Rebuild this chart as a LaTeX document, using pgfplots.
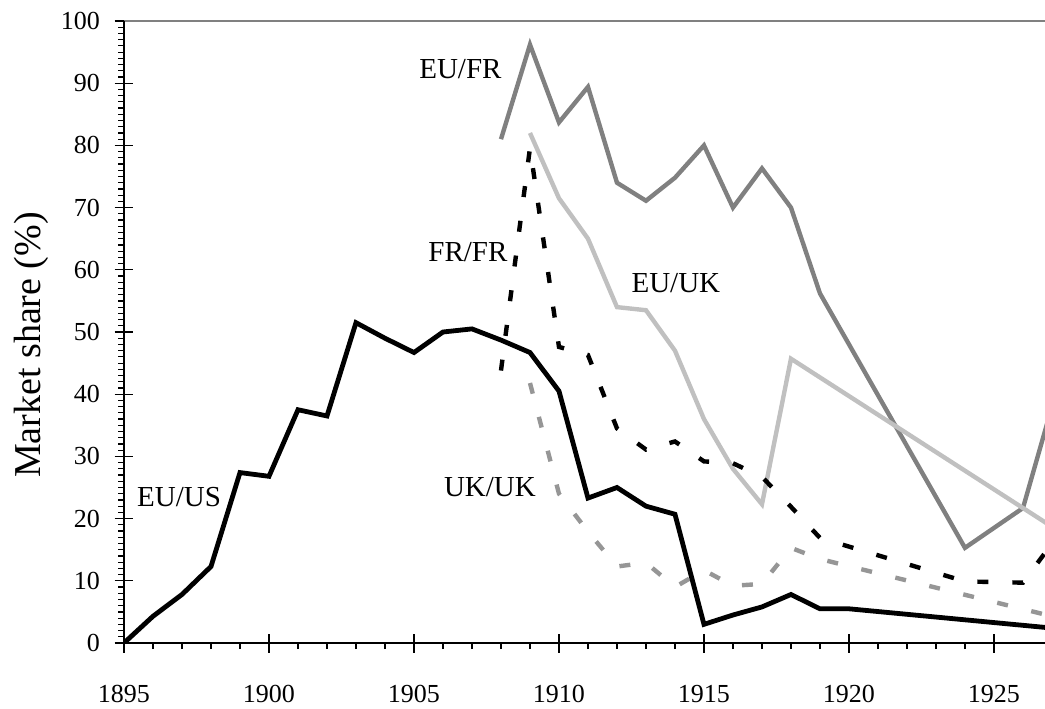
\documentclass[border=0pt]{standalone}
\usepackage{fontspec}
\setmainfont{Liberation Serif}
\usepackage{pgfplots}
\pgfplotsset{compat=1.18}
\definecolor{eufr}{RGB}{128,128,128}
\definecolor{euuk}{RGB}{192,192,192}
\definecolor{ukuk}{RGB}{150,150,150}
\begin{document}
\begin{tikzpicture}
\begin{axis}[
  at={(0,0)}, anchor=south west,
  scale only axis, width=460.5pt, height=311pt,
  xmin=1895, xmax=1926.76, ymin=0, ymax=100,
  axis lines=left,
  axis line style={-, black, line width=1pt},
  xtick={1895,1900,...,1925}, minor x tick num=4,
  ytick={0,10,...,100}, minor y tick num=9,
  tick align=outside, major tick length=4.75pt, minor tick length=3pt,
  extra x ticks={1895,1900,...,1925}, extra x tick labels={},
  extra y ticks={0,10,...,100}, extra y tick labels={},
  extra x tick style={tick align=inside, major tick length=4.75pt},
  extra y tick style={tick align=inside, major tick length=4.75pt},
  tick style={black, line width=0.6pt},
  ticklabel style={font=\fontsize{13}{15}\selectfont},
  /pgf/number format/assume math mode=true,
  /pgf/number format/1000 sep={},
  xticklabel style={anchor=base, yshift=-25.2pt},
  yticklabel style={anchor=east, xshift=-3.8pt},
  ylabel={Market share (\%)},
  ylabel style={font=\fontsize{19}{22}\selectfont, at={(axis description cs:-0.0912,0.479)}, anchor=base},
  clip=true,
]
\coordinate (tl) at (rel axis cs:0,1);
\coordinate (tr) at (rel axis cs:1,1);
% EU/FR
\addplot[eufr, line width=2.2pt, line join=miter] coordinates {
(1908,81) (1909,96.2) (1910,83.7) (1911,89.4) (1912,74) (1913,71.1) (1914,74.8)
(1915,80) (1916,70) (1917,76.3) (1918,70) (1919,56.2) (1924,15.3) (1926,21.7) (1927,38)};
% EU/UK
\addplot[euuk, line width=2.2pt] coordinates {
(1909,82) (1910,71.5) (1911,65) (1912,54) (1913,53.5) (1914,47) (1915,36)
(1916,28) (1917,22.3) (1918,45.7) (1927,18.7)};
% UK/UK
\addplot[ukuk, line width=2.2pt, dash pattern=on 5.5pt off 12pt] coordinates {
(1909,41.8) (1910,24) (1911,17.9) (1912,12.3) (1913,12.9) (1914,9.0) (1915,11.7)
(1916,9.2) (1917,9.5) (1918,15.3) (1919,13.5) (1927,4.3)};
% FR/FR
\addplot[black, line width=2.2pt, dash pattern=on 5.5pt off 12pt] coordinates {
(1908,43.8) (1909,79.6) (1910,47.6) (1911,46.3) (1912,34.5) (1913,31.1) (1914,32.4)
(1915,29.2) (1916,28.9) (1917,26.7) (1918,21.9) (1919,16.9) (1924,9.9) (1926,9.7) (1927,16)};
% EU/US
\addplot[black, line width=2.4pt] coordinates {
(1895,0) (1896,4.3) (1897,7.8) (1898,12.3) (1899,27.4) (1900,26.8) (1901,37.5)
(1902,36.5) (1903,51.5) (1904,49.0) (1905,46.7) (1906,50.0) (1907,50.5) (1908,48.7)
(1909,46.7) (1910,40.5) (1911,23.3) (1912,25.0) (1913,22.0) (1914,20.7) (1915,3.0)
(1916,4.5) (1917,5.8) (1918,7.8) (1919,5.5) (1920,5.5) (1927,2.4)};
\node[font=\fontsize{14.5}{17}\selectfont, anchor=base] at (axis cs:1906.6,90.8) {EU/FR};
\node[font=\fontsize{14.5}{17}\selectfont, anchor=base] at (axis cs:1906.86,61.4) {FR/FR};
\node[font=\fontsize{14.5}{17}\selectfont, anchor=base] at (axis cs:1914.03,56.3) {EU/UK};
\node[font=\fontsize{14.5}{17}\selectfont, anchor=base] at (axis cs:1907.62,23.5) {UK/UK};
\node[font=\fontsize{14.5}{17}\selectfont, anchor=base] at (axis cs:1896.9,22.0) {EU/US};
\end{axis}
\draw[eufr, line width=1.1pt] (tl) -- (tr);
\draw[black, line width=1pt] (tl) -- ++(0,-2pt);
\pgfresetboundingbox
\path[use as bounding box] (-62pt,-32.5pt) rectangle (460.5pt,321.5pt);
\end{tikzpicture}
\end{document}
